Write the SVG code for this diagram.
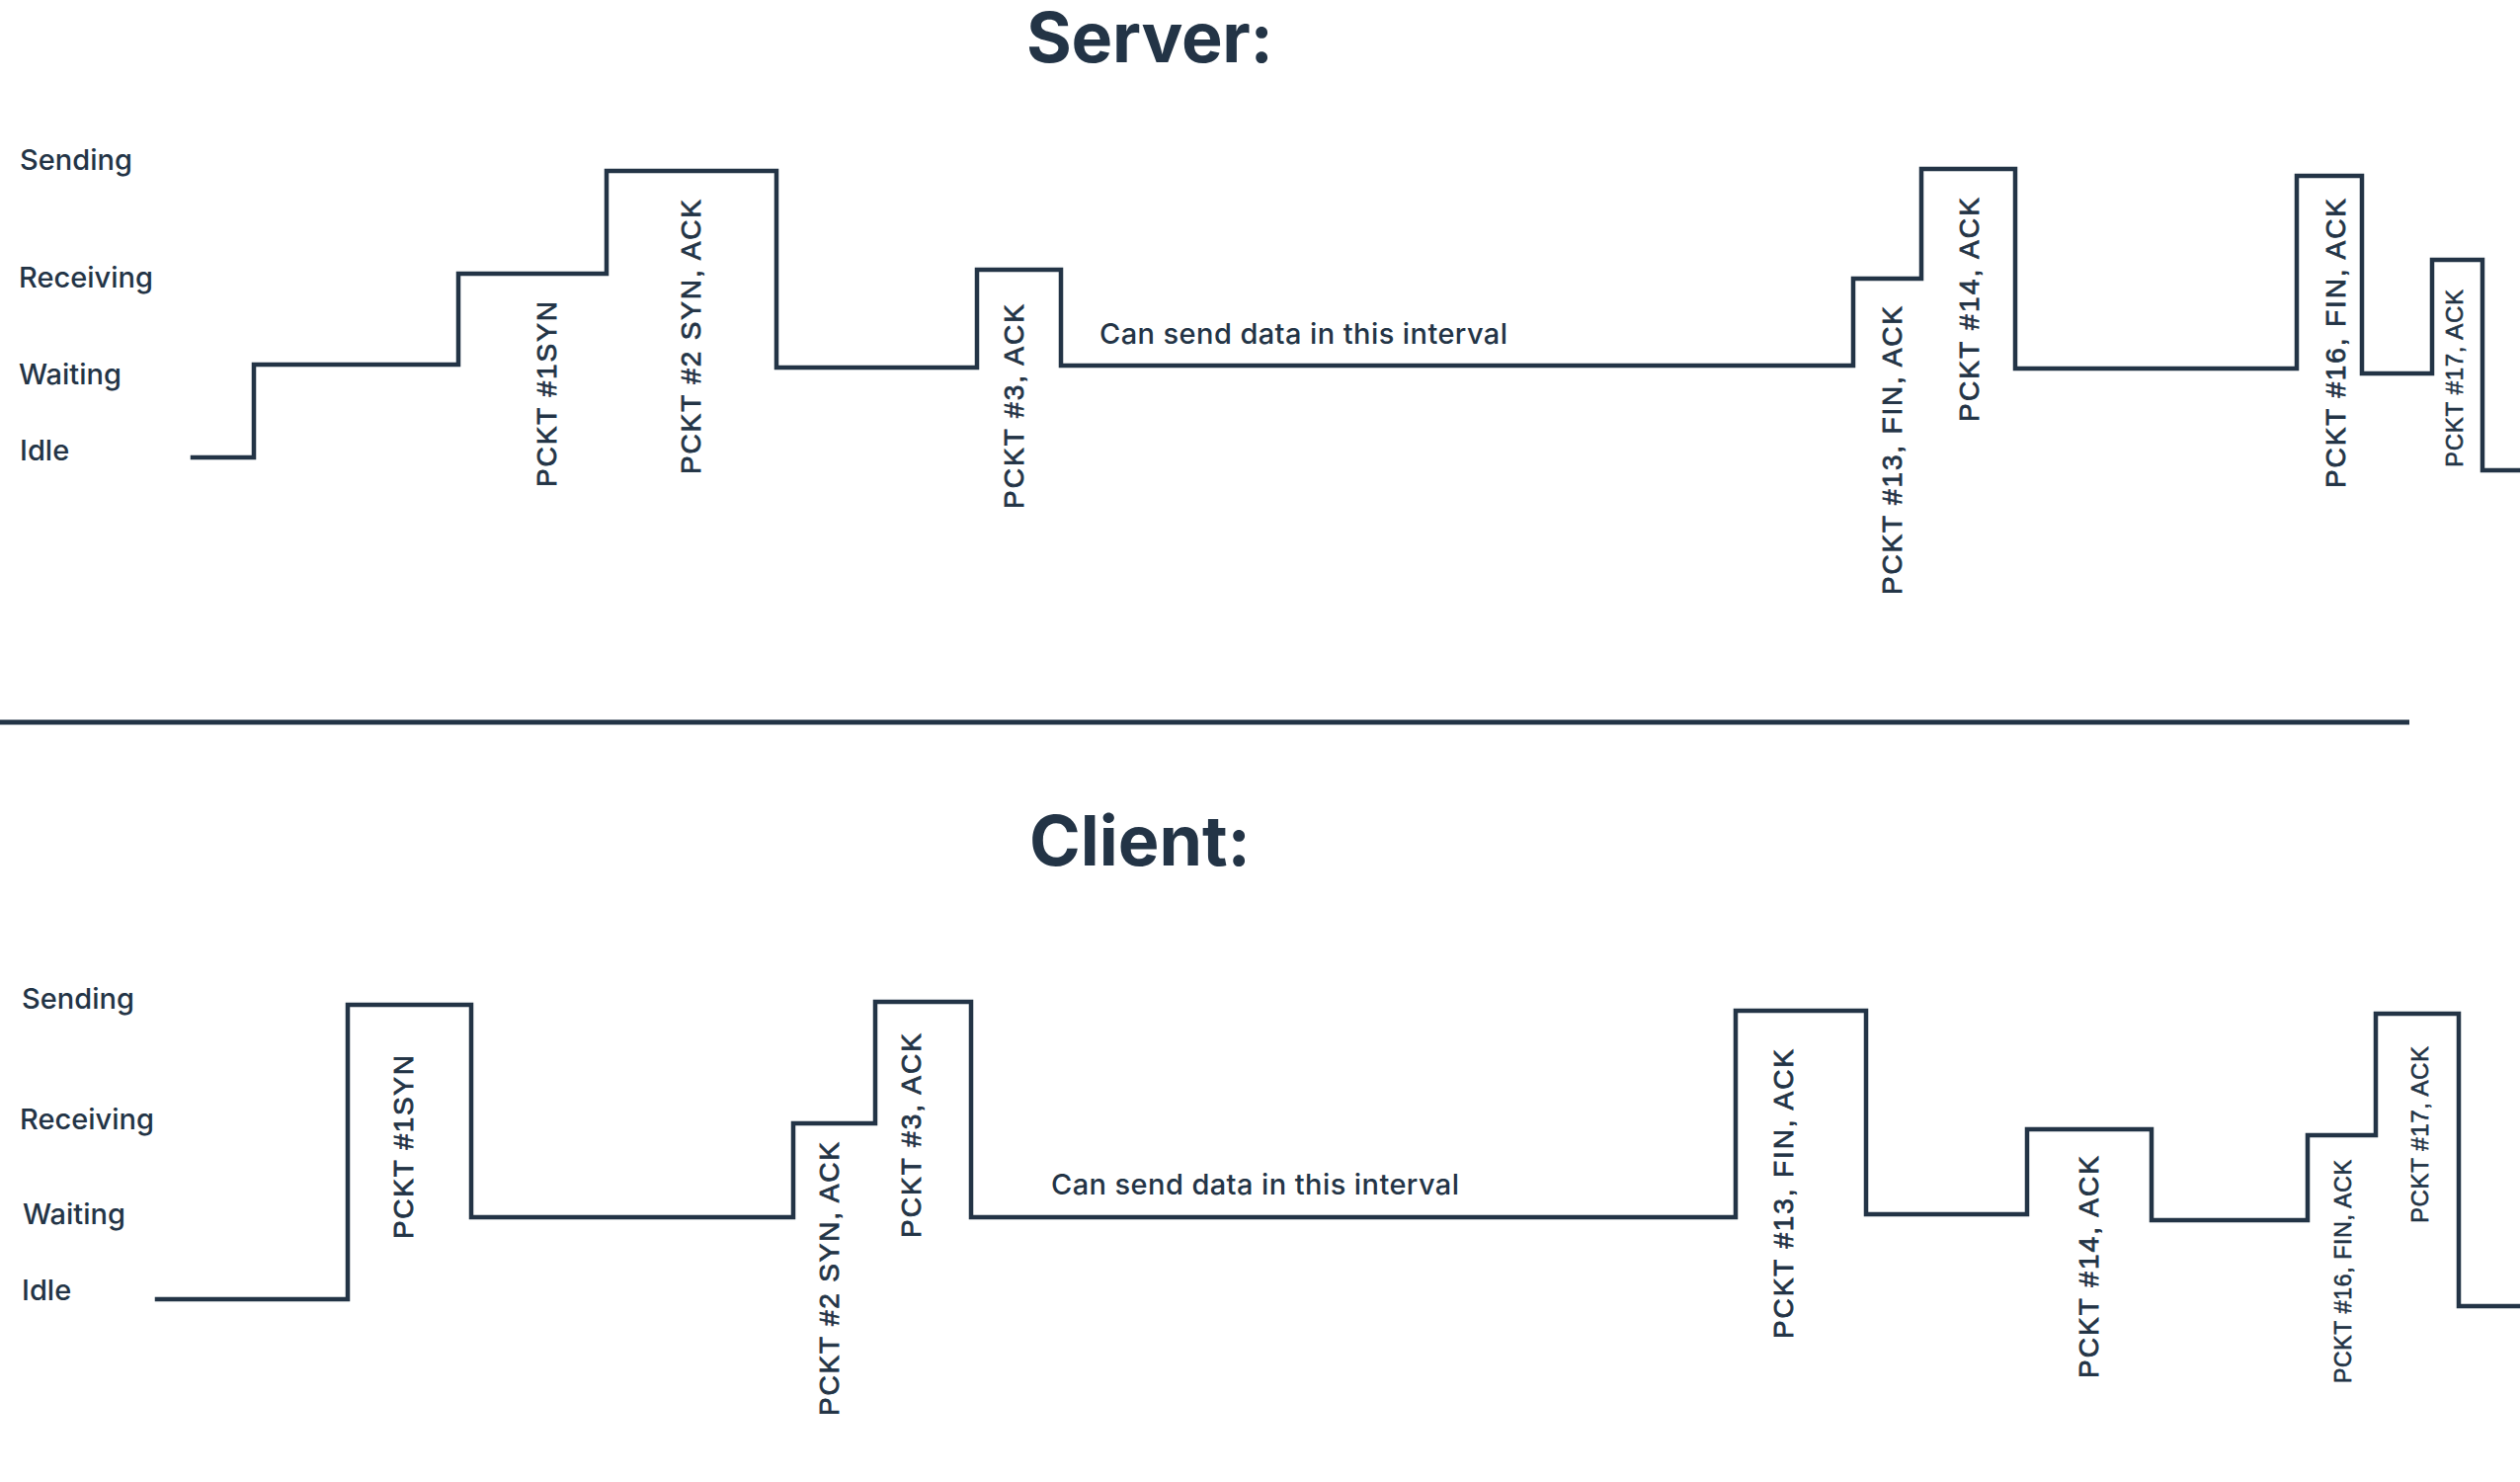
<svg xmlns="http://www.w3.org/2000/svg" width="2551" height="1500" viewBox="0 0 2551 1500">
  <style>
    .bg { fill: #ffffff; }
    .title { font-family: Inter, "Liberation Sans", Arial, sans-serif; font-weight: 700; font-size: 70px; fill: #233446; }
    .state { font-family: Inter, "Liberation Sans", Arial, sans-serif; font-weight: 500; font-size: 29px; fill: #233446; }
    .note { font-family: Inter, "Liberation Sans", Arial, sans-serif; font-weight: 500; font-size: 29px; fill: #233446; }
    .pk { font-family: "Liberation Sans", Arial, sans-serif; font-size: 28px; fill: #233446; stroke: #233446; stroke-width: 0.8px; }
    .pk-sm { font-size: 24px; stroke-width: 0.6px; }
    .pk-xs { font-size: 23px; stroke-width: 0.6px; }
    .trace { fill: none; stroke: #233446; stroke-width: 4.5; stroke-linejoin: miter; stroke-linecap: square; }
    .rule { stroke: #233446; stroke-width: 5; }
  </style>

  <rect class="bg" x="0" y="0" width="2551" height="1500"/>

  <!-- section titles -->
  <g id="title-server"><text class="title" x="1039" y="63" textLength="250" lengthAdjust="spacing">Server:</text></g>
  <g id="title-client"><text class="title" x="1042" y="876" textLength="224" lengthAdjust="spacing">Client:</text></g>

  <!-- state axis labels -->
  <g id="server-states">
    <text class="state" x="20" y="172">Sending</text>
    <text class="state" x="19" y="291">Receiving</text>
    <text class="state" x="19" y="389">Waiting</text>
    <text class="state" x="20" y="466">Idle</text>
  </g>
  <g id="client-states">
    <text class="state" x="22" y="1021">Sending</text>
    <text class="state" x="20" y="1143">Receiving</text>
    <text class="state" x="23" y="1239">Waiting</text>
    <text class="state" x="22" y="1316">Idle</text>
  </g>

  <!-- divider between the two timelines -->
  <g id="divider"><line class="rule" x1="0" y1="731" x2="2439" y2="731"/></g>

  <!-- state traces -->
  <g id="connectors">
    <polyline id="server-trace" class="trace" points="195,463 257,463 257,369 464,369 464,277 614,277 614,173 786,173 786,372 989,372 989,273 1074,273 1074,370 1876,370 1876,282 1945,282 1945,171 2040,171 2040,373 2325,373 2325,178 2391,178 2391,378 2462,378 2462,263 2513,263 2513,476 2553,476"/>
    <polyline id="client-trace" class="trace" points="159,1315 352,1315 352,1017 477,1017 477,1232 803,1232 803,1137 886,1137 886,1014 983,1014 983,1232 1757,1232 1757,1023 1889,1023 1889,1229 2052,1229 2052,1143 2178,1143 2178,1235 2336,1235 2336,1149 2405,1149 2405,1026 2489,1026 2489,1322 2553,1322"/>
  </g>

  <!-- interval notes -->
  <g id="server-note"><text class="note" x="1113" y="348" textLength="413" lengthAdjust="spacing">Can send data in this interval</text></g>
  <g id="client-note"><text class="note" x="1064" y="1209" textLength="413" lengthAdjust="spacing">Can send data in this interval</text></g>

  <!-- packet labels, server side -->
  <g id="server-packets">
    <g id="s-p1" transform="translate(563,493) rotate(-90)"><text class="pk" textLength="188" lengthAdjust="spacing">PCKT #1SYN</text></g>
    <g id="s-p2" transform="translate(709,480) rotate(-90)"><text class="pk" textLength="278" lengthAdjust="spacing">PCKT #2 SYN, ACK</text></g>
    <g id="s-p3" transform="translate(1036,515) rotate(-90)"><text class="pk" textLength="207" lengthAdjust="spacing">PCKT #3, ACK</text></g>
    <g id="s-p13" transform="translate(1925,602) rotate(-90)"><text class="pk" textLength="292" lengthAdjust="spacing">PCKT #13, FIN, ACK</text></g>
    <g id="s-p14" transform="translate(2003,427) rotate(-90)"><text class="pk" textLength="227" lengthAdjust="spacing">PCKT #14, ACK</text></g>
    <g id="s-p16" transform="translate(2374,494) rotate(-90)"><text class="pk" textLength="293" lengthAdjust="spacing">PCKT #16, FIN, ACK</text></g>
    <g id="s-p17" transform="translate(2493,473) rotate(-90)"><text class="pk pk-sm" textLength="180" lengthAdjust="spacing">PCKT #17, ACK</text></g>
  </g>

  <!-- packet labels, client side -->
  <g id="client-packets">
    <g id="c-p1" transform="translate(418,1254) rotate(-90)"><text class="pk" textLength="186" lengthAdjust="spacing">PCKT #1SYN</text></g>
    <g id="c-p2" transform="translate(849,1433) rotate(-90)"><text class="pk" textLength="277" lengthAdjust="spacing">PCKT #2 SYN, ACK</text></g>
    <g id="c-p3" transform="translate(932,1253) rotate(-90)"><text class="pk" textLength="207" lengthAdjust="spacing">PCKT #3, ACK</text></g>
    <g id="c-p13" transform="translate(1815,1355) rotate(-90)"><text class="pk" textLength="293" lengthAdjust="spacing">PCKT #13, FIN, ACK</text></g>
    <g id="c-p14" transform="translate(2124,1395) rotate(-90)"><text class="pk" textLength="225" lengthAdjust="spacing">PCKT #14, ACK</text></g>
    <g id="c-p16" transform="translate(2380,1400) rotate(-90)"><text class="pk pk-xs" textLength="226" lengthAdjust="spacing">PCKT #16, FIN, ACK</text></g>
    <g id="c-p17" transform="translate(2458,1238) rotate(-90)"><text class="pk pk-sm" textLength="179" lengthAdjust="spacing">PCKT #17, ACK</text></g>
  </g>
</svg>
